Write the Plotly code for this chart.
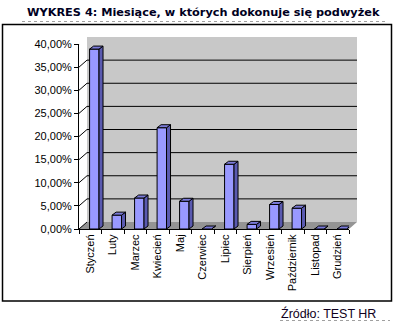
import plotly.graph_objects as go

months = ["Styczeń", "Luty", "Marzec", "Kwiecień", "Maj", "Czerwiec", "Lipiec",
          "Sierpień", "Wrzesień", "Październik", "Listopad", "Grudzień"]
values = [0.389, 0.030, 0.067, 0.219, 0.060, 0.0, 0.140, 0.010, 0.053, 0.045, 0.0, 0.0]
y_ticks = [0.0, 0.05, 0.10, 0.15, 0.20, 0.25, 0.30, 0.35, 0.40]
title_text = "WYKRES 4: Miesiące, w których dokonuje się podwyżek"
source_text = "Źródło: TEST HR"

W, H = 393, 325
L, R, T, B = 79, 44, 44, 96
PW = W - L - R
PH = H - T - B
YMAX = 0.40
DX, DY = 8, 7          # depth of walls (px)
BW, BOFF = 0.42, -0.03  # bar width / offset in category units
BDX, BDY = 4, 3         # bar depth (px)
bar_px = BW * PW / len(months)

FRONT = "#9999FF"
SIDE = "#5A5AB0"
TOP = "#7A7AD8"


def px_x(p):
    return (p - L) / PW


def px_y(p):
    return (H - B - p) / PH


shapes = []
# back wall
shapes.append(dict(type="rect", xref="paper", yref="paper", layer="below",
                   x0=DX / PW, x1=1 + DX / PW, y0=DY / PH, y1=1 + DY / PH,
                   fillcolor="#C8C8C8", line=dict(width=0)))
# floor
dx, dy = DX / PW, DY / PH
shapes.append(dict(type="path", xref="paper", yref="paper", layer="below",
                   path=f"M0,0 L1,0 L{1+dx},{dy} L{dx},{dy} Z",
                   fillcolor="#949494", line=dict(width=0)))
# back-wall gridlines + left-wall diagonals
for v in y_ticks:
    if 0 < v < YMAX:
        shapes.append(dict(type="line", xref="paper", yref="y", layer="below",
                           x0=DX / PW, x1=1 + DX / PW, ysizemode="pixel", yanchor=v,
                           y0=DY, y1=DY, line=dict(color="black", width=1)))
    shapes.append(dict(type="line", xref="paper", yref="y", layer="below",
                       xsizemode="pixel", xanchor=0, x0=0, x1=DX,
                       ysizemode="pixel", yanchor=v, y0=0, y1=DY,
                       line=dict(color="black", width=1)))

# 3D faces of bars
for i, v in enumerate(values):
    h = v / YMAX * PH
    shapes.append(dict(type="path", xref="x", yref="y", layer="above",
                       xsizemode="pixel", xanchor=i + BOFF + BW,
                       ysizemode="pixel", yanchor=v,
                       path=f"M0,0 L{BDX},{BDY} L{BDX},{BDY - h} L0,{-h} Z",
                       fillcolor=SIDE, line=dict(color="black", width=1)))
    shapes.append(dict(type="path", xref="x", yref="y", layer="above",
                       xsizemode="pixel", xanchor=i + BOFF,
                       ysizemode="pixel", yanchor=v,
                       path=f"M0,0 L{bar_px},0 L{bar_px + BDX},{BDY} L{BDX},{BDY} Z",
                       fillcolor=TOP, line=dict(color="black", width=1)))

# outer chart border
shapes.append(dict(type="rect", xref="paper", yref="paper",
                   x0=px_x(2.5), x1=px_x(391.5), y0=px_y(301), y1=px_y(24.5),
                   line=dict(color="black", width=1.5), fillcolor="rgba(0,0,0,0)"))
# dotted cell lines
shapes.append(dict(type="line", xref="paper", yref="paper",
                   x0=px_x(22), x1=px_x(388), y0=px_y(21.5), y1=px_y(21.5),
                   line=dict(color="#A0A0A0", width=1, dash="dot")))
shapes.append(dict(type="line", xref="paper", yref="paper",
                   x0=px_x(280), x1=px_x(390), y0=px_y(320.5), y1=px_y(320.5),
                   line=dict(color="#A0A0A0", width=1, dash="dot")))

fig = go.Figure()
fig.add_trace(go.Bar(
    x=list(range(len(months))), y=values, width=BW, offset=BOFF,
    marker=dict(color=FRONT, line=dict(color="black", width=1)),
    hoverinfo="skip",
))

fig.update_layout(
    width=W, height=H,
    margin=dict(l=L, r=R, t=T, b=B, pad=0),
    paper_bgcolor="white", plot_bgcolor="rgba(0,0,0,0)",
    separators=", ",
    showlegend=False,
    shapes=shapes,
    font=dict(family="Arial, Liberation Sans", size=11, color="black"),
    annotations=[
        dict(text=title_text, xref="paper", yref="paper", x=px_x(382), y=px_y(13),
             xanchor="right", yanchor="middle", showarrow=False,
             font=dict(family="DejaVu Sans", size=11.3, color="#000022", weight="bold")),
        dict(text=source_text, xref="paper", yref="paper", x=px_x(378), y=px_y(313),
             xanchor="right", yanchor="middle", showarrow=False,
             font=dict(family="Arial, Liberation Sans", size=12.5, color="#100020")),
    ],
)
fig.update_xaxes(
    range=[-0.5, len(months) - 0.5], tickmode="array",
    tickvals=list(range(len(months))), ticktext=months, tickangle=-90,
    ticks="", showline=True, linecolor="black", linewidth=1, showgrid=False,
    zeroline=False, fixedrange=True,
    minor=dict(tickmode="linear", tick0=-0.5, dtick=1, ticks="outside",
               ticklen=4, tickcolor="black", showgrid=False),
)
fig.update_yaxes(
    range=[0, YMAX], tickmode="array", tickvals=y_ticks, tickformat=".2%",
    ticks="outside", ticklen=4, tickcolor="black", showline=True,
    linecolor="black", linewidth=1, showgrid=False, zeroline=False, fixedrange=True,
)

fig.write_html("out.html", config={"displayModeBar": False})
